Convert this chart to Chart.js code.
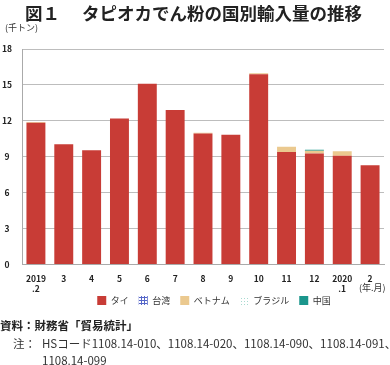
<!DOCTYPE html>
<html><head><meta charset="utf-8">
<script src="https://cdn.jsdelivr.net/npm/chart.js@4"></script>
<style>
html,body{margin:0;padding:0;background:#fff;}
#wrap{position:relative;width:390px;height:365px;overflow:hidden;font-family:"Noto Sans CJK JP",sans-serif;color:#222;}
#c{position:absolute;left:0;top:0;}
.t{position:absolute;white-space:nowrap;}
</style></head><body>
<div id="wrap">
<canvas id="c" width="390" height="332"></canvas>
<div class="t" style="left:25px;top:3px;font-size:17.5px;font-weight:bold;line-height:20px;color:#222;"><span>図１</span><span style="margin-left:22px">タピオカでん粉の国別輸入量の推移</span></div>
<div class="t" style="left:5px;top:22px;font-size:9px;line-height:12px;color:#333;">(千トン)</div>
<div class="t" style="left:359px;top:282px;font-size:9px;line-height:12px;color:#333;">(年.月)</div>
<div class="t" style="left:0px;top:317px;font-size:11.5px;font-weight:bold;line-height:16px;color:#222;">資料：財務省「貿易統計」</div>
<div class="t" style="left:13px;top:335px;font-size:11.5px;line-height:16px;color:#333;">注：</div>
<div class="t" style="left:42px;top:335px;font-size:11.5px;line-height:17px;color:#333;">HSコード1108.14-010、1108.14-020、1108.14-090、1108.14-091、<br>1108.14-099</div>
</div>
<script>
const categories = [["2019",".2"],"3","4","5","6","7","8","9","10","11","12",["2020",".1"],"2"];
const seriesNames = ["タイ","台湾","ベトナム","ブラジル","中国"];
const thai    = [11.85,10.05,9.55,12.2,15.1,12.9,10.95,10.85,15.9,9.4,9.28,9.08,8.3];
const taiwan  = [0,0,0,0,0,0,0,0,0,0,0,0,0];
const vietnam = [0.05,0,0,0,0,0,0.05,0,0.08,0.44,0.22,0.39,0];
const brazil  = [0,0,0,0,0,0,0,0,0,0,0,0,0];
const china   = [0,0,0,0,0,0,0,0,0,0,0.08,0,0];
const yTicks  = [0,3,6,9,12,15,18];

function makePattern(kind){
  const p=document.createElement('canvas'); p.width=3; p.height=3;
  const g=p.getContext('2d');
  g.fillStyle='#fff'; g.fillRect(0,0,3,3);
  if(kind==='grid'){
    g.fillStyle='#5566c8'; g.fillRect(0,0,3,1); g.fillRect(0,0,1,3);
  } else {
    g.fillStyle='#a8dad0'; g.fillRect(1,1,1,1);
  }
  return document.getElementById('c').getContext('2d').createPattern(p,'repeat');
}
const colors = ['#c83c36', makePattern('grid'), '#ebc98f', makePattern('dots'), '#1b968c'];
const values = [thai,taiwan,vietnam,brazil,china];

const font = {family:'"Noto Sans CJK JP", sans-serif'};
const legendShift = {
  id:'legendShift',
  afterLayout(chart){ const l=chart.legend; if(l){ l.left+=22; l.right+=22; l.top-=17; l.bottom-=17; } }
};

new Chart(document.getElementById('c'),{
  type:'bar',
  data:{
    labels:categories,
    datasets:seriesNames.map((n,i)=>({label:n,data:values[i],backgroundColor:colors[i],borderWidth:0,
      categoryPercentage:1,barPercentage:0.68}))
  },
  options:{
    responsive:false,animation:false,
    layout:{padding:{top:49,right:6,left:0,bottom:0}},
    plugins:{
      legend:{position:'bottom',labels:{boxWidth:9,boxHeight:9,padding:10,color:'#333',
        font:{family:font.family,size:9}}},
      tooltip:{enabled:false}
    },
    scales:{
      x:{stacked:true,grid:{display:false,drawTicks:false},
        border:{color:'#aaa'},
        ticks:{padding:9,color:'#222',maxRotation:0,autoSkip:false,
          font:{family:font.family,size:8.5,weight:'bold',lineHeight:1.2}}},
      y:{stacked:true,min:0,max:18,
        afterBuildTicks(s){ s.ticks = yTicks.map(v=>({value:v})); },
        afterFit(s){ s.width = 22; },
        grid:{color:'#bdbdbd',drawTicks:false},
        border:{color:'#aaa'},
        ticks:{padding:10,crossAlign:'center',color:'#222',
          font:{family:font.family,size:8.5,weight:'bold'}}}
    }
  },
  plugins:[legendShift]
});
</script>
</body></html>
